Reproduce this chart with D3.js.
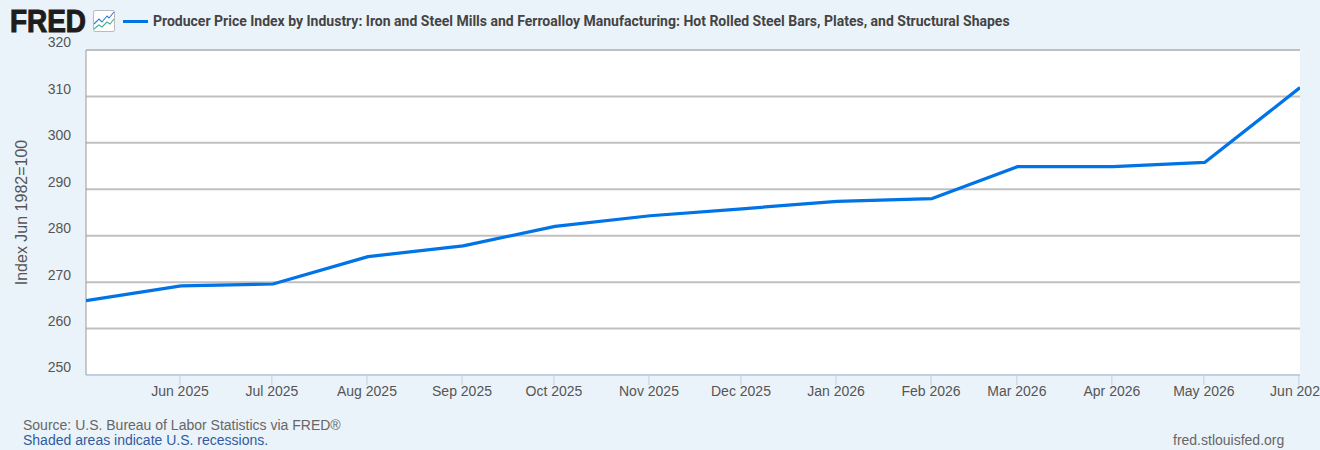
<!DOCTYPE html>
<html>
<head>
<meta charset="utf-8">
<script src="https://cdn.jsdelivr.net/npm/d3@7"></script>
<style>
  html, body { margin: 0; padding: 0; background: #ebf3fa; overflow: hidden; }
  svg { display: block; }
</style>
</head>
<body>
<svg id="chart"></svg>
<script>
const months = ["2025-05-01", "2025-06-01", "2025-07-01", "2025-08-01", "2025-09-01", "2025-10-01", "2025-11-01", "2025-12-01", "2026-01-01", "2026-02-01", "2026-03-01", "2026-04-01", "2026-05-01", "2026-06-01"];
const values = [266.0, 269.2, 269.6, 275.5, 277.8, 282.0, 284.3, 285.8, 287.4, 288.0, 294.9, 294.9, 295.8, 311.9];
const yTicks = [250, 260, 270, 280, 290, 300, 310, 320];
const seriesTitle = "Producer Price Index by Industry: Iron and Steel Mills and Ferroalloy Manufacturing: Hot Rolled Steel Bars, Plates, and Structural Shapes";
const yLabel = "Index Jun 1982=100";

const W = 1320, H = 450;
const margin = { top: 50, right: 20, bottom: 75, left: 86 };
const lineColor = "#0073e6";
const textFont = "'Liberation Sans', Arial, sans-serif";

const svg = d3.select("#chart").attr("width", W).attr("height", H);
const parseDay = d3.utcParse("%Y-%m-%d");
const data = months.map((m, i) => ({ date: parseDay(m), value: values[i] }));

const x = d3.scaleUtc()
  .domain(d3.extent(data, (d) => d.date))
  .range([margin.left, W - margin.right]);
const y = d3.scaleLinear()
  .domain([250, 320])
  .range([H - margin.bottom, margin.top]);

// plot background
svg.append("rect")
  .attr("x", margin.left)
  .attr("y", margin.top)
  .attr("width", W - margin.left - margin.right)
  .attr("height", H - margin.top - margin.bottom)
  .attr("fill", "#fff");

svg.append("clipPath").attr("id", "plot-clip")
  .append("rect")
  .attr("x", margin.left)
  .attr("y", margin.top)
  .attr("width", W - margin.left - margin.right)
  .attr("height", H - margin.top - margin.bottom);

// gridlines and y labels
const yAxis = svg.append("g")
  .attr("transform", `translate(${margin.left},0)`)
  .call(d3.axisLeft(y).tickValues(yTicks).tickSize(0).tickPadding(15));
yAxis.select(".domain").remove();
yAxis.selectAll("text")
  .attr("dy", "-0.22em")
  .style("font-family", textFont)
  .style("font-size", "14px")
  .style("fill", "#555");

svg.append("g").selectAll("line")
  .data(yTicks.filter((d) => d > 250))
  .enter()
  .append("line")
  .attr("x1", margin.left)
  .attr("x2", W - margin.right)
  .attr("y1", (d) => y(d))
  .attr("y2", (d) => y(d))
  .attr("stroke", "#c0c0c0")
  .attr("stroke-width", 2);

// x axis, ticks sit slightly left of the data points
const xAxis = svg.append("g")
  .attr("transform", `translate(-1.6,${H - margin.bottom})`)
  .call(d3.axisBottom(x)
    .tickValues(data.slice(1).map((d) => d.date))
    .tickFormat(d3.utcFormat("%b %Y"))
    .tickSize(10)
    .tickPadding(1));
xAxis.select(".domain").remove();
xAxis.selectAll("line").attr("stroke", "#c0d0e0");
xAxis.selectAll("text")
  .style("font-family", textFont)
  .style("font-size", "14px")
  .style("fill", "#555");

svg.append("line")
  .attr("x1", margin.left)
  .attr("x2", W - margin.right)
  .attr("y1", y(250))
  .attr("y2", y(250))
  .attr("stroke", "#c0d0e0")
  .attr("stroke-width", 2);
svg.append("line")
  .attr("x1", margin.left)
  .attr("x2", margin.left)
  .attr("y1", margin.top)
  .attr("y2", H - margin.bottom)
  .attr("stroke", "#999")
  .attr("stroke-width", 1);

// series
const line = d3.line().x((d) => x(d.date)).y((d) => y(d.value));
svg.append("path")
  .datum(data)
  .attr("clip-path", "url(#plot-clip)")
  .attr("d", line)
  .attr("fill", "none")
  .attr("stroke", lineColor)
  .attr("stroke-width", 3.2)
  .attr("stroke-linejoin", "round");

svg.append("text")
  .attr("transform", `translate(27,${(y(250) + y(320)) / 2}) rotate(-90)`)
  .attr("text-anchor", "middle")
  .style("font-family", textFont)
  .style("font-size", "16px")
  .style("fill", "#555")
  .text(yLabel);

// logo
svg.append("text")
  .attr("x", 10)
  .attr("y", 32)
  .attr("textLength", 76)
  .attr("lengthAdjust", "spacingAndGlyphs")
  .style("font-family", "'Liberation Sans', Arial, sans-serif")
  .style("font-weight", "700")
  .style("font-size", "31px")
  .style("fill", "#1e1c1c")
  .style("stroke", "#1e1c1c")
  .style("stroke-width", "1.1")
  .text("FRED");

const icon = svg.append("g").attr("transform", "translate(93,10)");
icon.append("rect")
  .attr("x", 0.5).attr("y", 0.5)
  .attr("width", 21).attr("height", 21).attr("rx", 1.5)
  .attr("fill", "#fff").attr("stroke", "#bbb");
icon.append("path")
  .attr("d", "M1,14 L6,9 L9,12 L14,6 L16,8 L21,2")
  .attr("fill", "none").attr("stroke", "#2f7fd6").attr("stroke-width", 1.1);
icon.append("path")
  .attr("d", "M1,19 L6,15 L9,17 L14,12 L17,14 L21,9")
  .attr("fill", "none").attr("stroke", "#45b08c").attr("stroke-width", 1.1);

// legend
svg.append("line")
  .attr("x1", 123).attr("x2", 148)
  .attr("y1", 21.5).attr("y2", 21.5)
  .attr("stroke", lineColor)
  .attr("stroke-width", 3);
svg.append("text")
  .attr("x", 153)
  .attr("y", 26)
  .style("font-family", "Roboto, sans-serif")
  .style("font-weight", "700")
  .style("font-size", "14px")
  .style("fill", "#444")
  .text(seriesTitle);

// footer
svg.append("text")
  .attr("x", 23).attr("y", 430)
  .style("font-family", textFont).style("font-size", "14px").style("fill", "#666")
  .text("Source: U.S. Bureau of Labor Statistics via FRED®");
svg.append("text")
  .attr("x", 23).attr("y", 445)
  .style("font-family", textFont).style("font-size", "14px").style("fill", "#2f5c9e")
  .text("Shaded areas indicate U.S. recessions.");
svg.append("text")
  .attr("x", 1173).attr("y", 445)
  .style("font-family", textFont).style("font-size", "14px").style("fill", "#666")
  .text("fred.stlouisfed.org");
</script>
</body>
</html>
